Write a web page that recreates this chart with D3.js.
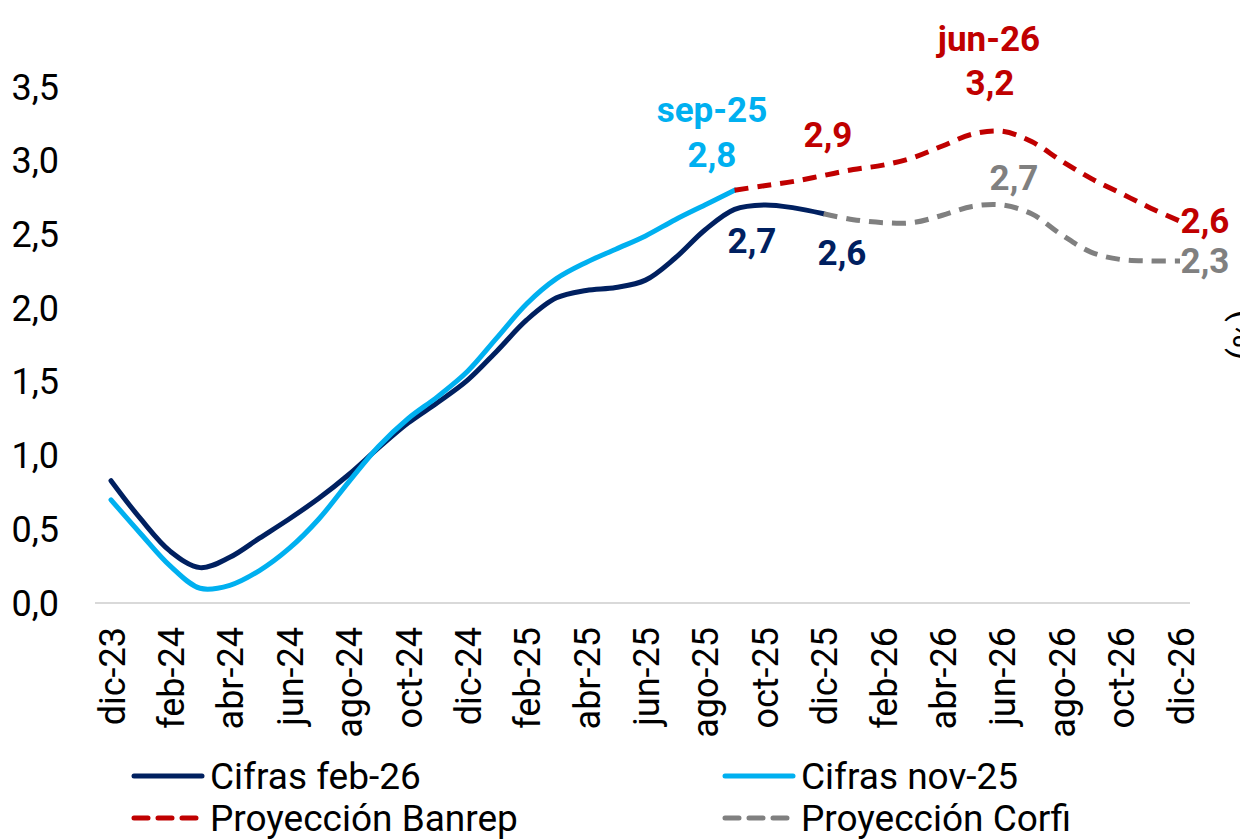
<!DOCTYPE html>
<html>
<head>
<meta charset="utf-8">
<script src="https://cdn.jsdelivr.net/npm/d3@7"></script>
<style>
  body { margin: 0; background: #fff; }
  svg { font-family: Roboto, "Liberation Sans", sans-serif; }
  .tick-label { font-size: 36px; fill: #000; }
  .data-label { font-size: 35px; font-weight: bold; text-anchor: middle; }
  .legend-label { font-size: 37px; fill: #000; }
</style>
</head>
<body>
<div class="chart-container"></div>
<script>
var totalWidth = 1240;
var totalHeight = 840;

var months = ['dic-23', 'ene-24', 'feb-24', 'mar-24', 'abr-24', 'may-24', 'jun-24', 'jul-24', 'ago-24', 'sep-24', 'oct-24', 'nov-24',
  'dic-24', 'ene-25', 'feb-25', 'mar-25', 'abr-25', 'may-25', 'jun-25', 'jul-25', 'ago-25', 'sep-25', 'oct-25', 'nov-25',
  'dic-25', 'ene-26', 'feb-26', 'mar-26', 'abr-26', 'may-26', 'jun-26', 'jul-26', 'ago-26', 'sep-26', 'oct-26', 'nov-26', 'dic-26'];

// dic-23 .. dic-25
var cifrasFeb26 = [0.83, 0.57, 0.35, 0.24, 0.31, 0.44, 0.57, 0.71, 0.87, 1.05, 1.22, 1.36,
  1.51, 1.71, 1.92, 2.07, 2.12, 2.14, 2.19, 2.34, 2.53, 2.67, 2.70, 2.68, 2.64];
// dic-23 .. sep-25
var cifrasNov25 = [0.70, 0.47, 0.25, 0.10, 0.12, 0.22, 0.37, 0.57, 0.82, 1.06, 1.25, 1.40,
  1.57, 1.80, 2.03, 2.20, 2.31, 2.40, 2.49, 2.60, 2.70, 2.80];
// sep-25 .. dic-26
var proyBanrep = [2.80, 2.83, 2.86, 2.90, 2.94, 2.97, 3.02, 3.10, 3.18, 3.20, 3.13, 3.00, 2.88, 2.78, 2.68, 2.59];
// dic-25 .. dic-26
var proyCorfi = [2.64, 2.60, 2.58, 2.58, 2.63, 2.69, 2.70, 2.64, 2.50, 2.38, 2.33, 2.32, 2.32];

var yTicks = [0, 0.5, 1, 1.5, 2, 2.5, 3, 3.5];

var colors = {
  feb26: '#002060',
  nov25: '#00B0F0',
  banrep: '#C00000',
  corfi: '#808080'
};

function toPoints(values, start) {
  return values.map((v, i) => ({ i: start + i, v: v }));
}

var series = [
  { name: 'Cifras feb-26', color: colors.feb26, dash: null, pts: toPoints(cifrasFeb26, 0) },
  { name: 'Cifras nov-25', color: colors.nov25, dash: null, pts: toPoints(cifrasNov25, 0) },
  { name: 'Proyección Banrep', color: colors.banrep, dash: '14,9', pts: toPoints(proyBanrep, months.indexOf('sep-25')) },
  { name: 'Proyección Corfi', color: colors.corfi, dash: '14,9', pts: toPoints(proyCorfi, months.indexOf('dic-25')) }
];

buildChart();

function buildChart() {
  var svg = d3.select('.chart-container').append('svg')
    .attr('width', totalWidth)
    .attr('height', totalHeight);

  var x = d3.scaleLinear()
    .domain([0, months.length - 1])
    .range([111, 1180]);

  var y = d3.scaleLinear()
    .domain([0, 3.5])
    .range([603, 87]);

  var fmt = d => d3.format('.1f')(d).replace('.', ',');

  // y tick labels (no axis line)
  svg.append('g').selectAll('text')
    .data(yTicks).enter()
    .append('text')
      .attr('class', 'tick-label')
      .attr('x', 59)
      .attr('y', d => y(d))
      .attr('dy', '0.35em')
      .attr('text-anchor', 'end')
      .text(fmt);

  // x axis line
  svg.append('line')
    .attr('x1', 95).attr('x2', 1190)
    .attr('y1', y(0)).attr('y2', y(0))
    .attr('stroke', '#D9D9D9')
    .attr('stroke-width', 2);

  // x tick labels every two months
  var xTicks = months.filter((m, i) => i % 2 === 0);
  svg.append('g').selectAll('text')
    .data(xTicks).enter()
    .append('text')
      .attr('class', 'tick-label')
      .attr('text-anchor', 'end')
      .attr('dy', '0.35em')
      .attr('transform', d => `translate(${x(months.indexOf(d)) + 1}, 627) rotate(-90)`)
      .text(d => d);

  var line = d3.line()
    .x(d => x(d.i))
    .y(d => y(d.v))
    .curve(d3.curveCatmullRom.alpha(0.5));

  svg.append('g').selectAll('path')
    .data(series).enter()
    .append('path')
      .attr('d', d => line(d.pts))
      .attr('fill', 'none')
      .attr('stroke', d => d.color)
      .attr('stroke-width', 5)
      .attr('stroke-linecap', d => d.dash ? 'butt' : 'round')
      .attr('stroke-dasharray', d => d.dash);

  // data labels
  var labels = [
    { text: 'sep-25', x: 712, y: 122, color: colors.nov25 },
    { text: '2,8', x: 712, y: 167, color: colors.nov25 },
    { text: '2,9', x: 828, y: 147, color: colors.banrep },
    { text: 'jun-26', x: 989, y: 51, color: colors.banrep },
    { text: '3,2', x: 990, y: 95, color: colors.banrep },
    { text: '2,7', x: 1014, y: 190, color: colors.corfi },
    { text: '2,6', x: 1205, y: 233, color: colors.banrep },
    { text: '2,3', x: 1205, y: 273, color: colors.corfi },
    { text: '2,7', x: 752, y: 253, color: colors.feb26 },
    { text: '2,6', x: 842, y: 265, color: colors.feb26 }
  ];
  svg.append('g').selectAll('text')
    .data(labels).enter()
    .append('text')
      .attr('class', 'data-label')
      .attr('x', d => d.x)
      .attr('y', d => d.y)
      .attr('fill', d => d.color)
      .text(d => d.text);

  // axis title, mostly cut off at the right edge (as in the original)
  svg.append('text')
    .attr('class', 'tick-label')
    .attr('text-anchor', 'middle')
    .attr('transform', 'translate(1233, 335) rotate(90)')
    .text('(%)');

  // legend
  var legendPos = [
    { x: 132, y: 776 },
    { x: 723, y: 776 },
    { x: 132, y: 818 },
    { x: 723, y: 818 }
  ];
  var legend = svg.append('g').selectAll('g')
    .data(series).enter()
    .append('g')
      .attr('transform', (d, i) => `translate(${legendPos[i].x}, ${legendPos[i].y})`);

  legend.append('line')
    .attr('x1', 2).attr('x2', d => d.dash ? 66 : 70)
    .attr('stroke', d => d.color)
    .attr('stroke-width', 5)
    .attr('stroke-linecap', 'round')
    .attr('stroke-dasharray', d => d.dash ? '14,10' : null);

  legend.append('text')
    .attr('class', 'legend-label')
    .attr('x', 78)
    .attr('dy', '0.35em')
    .text(d => d.name);
}
</script>
</body>
</html>
